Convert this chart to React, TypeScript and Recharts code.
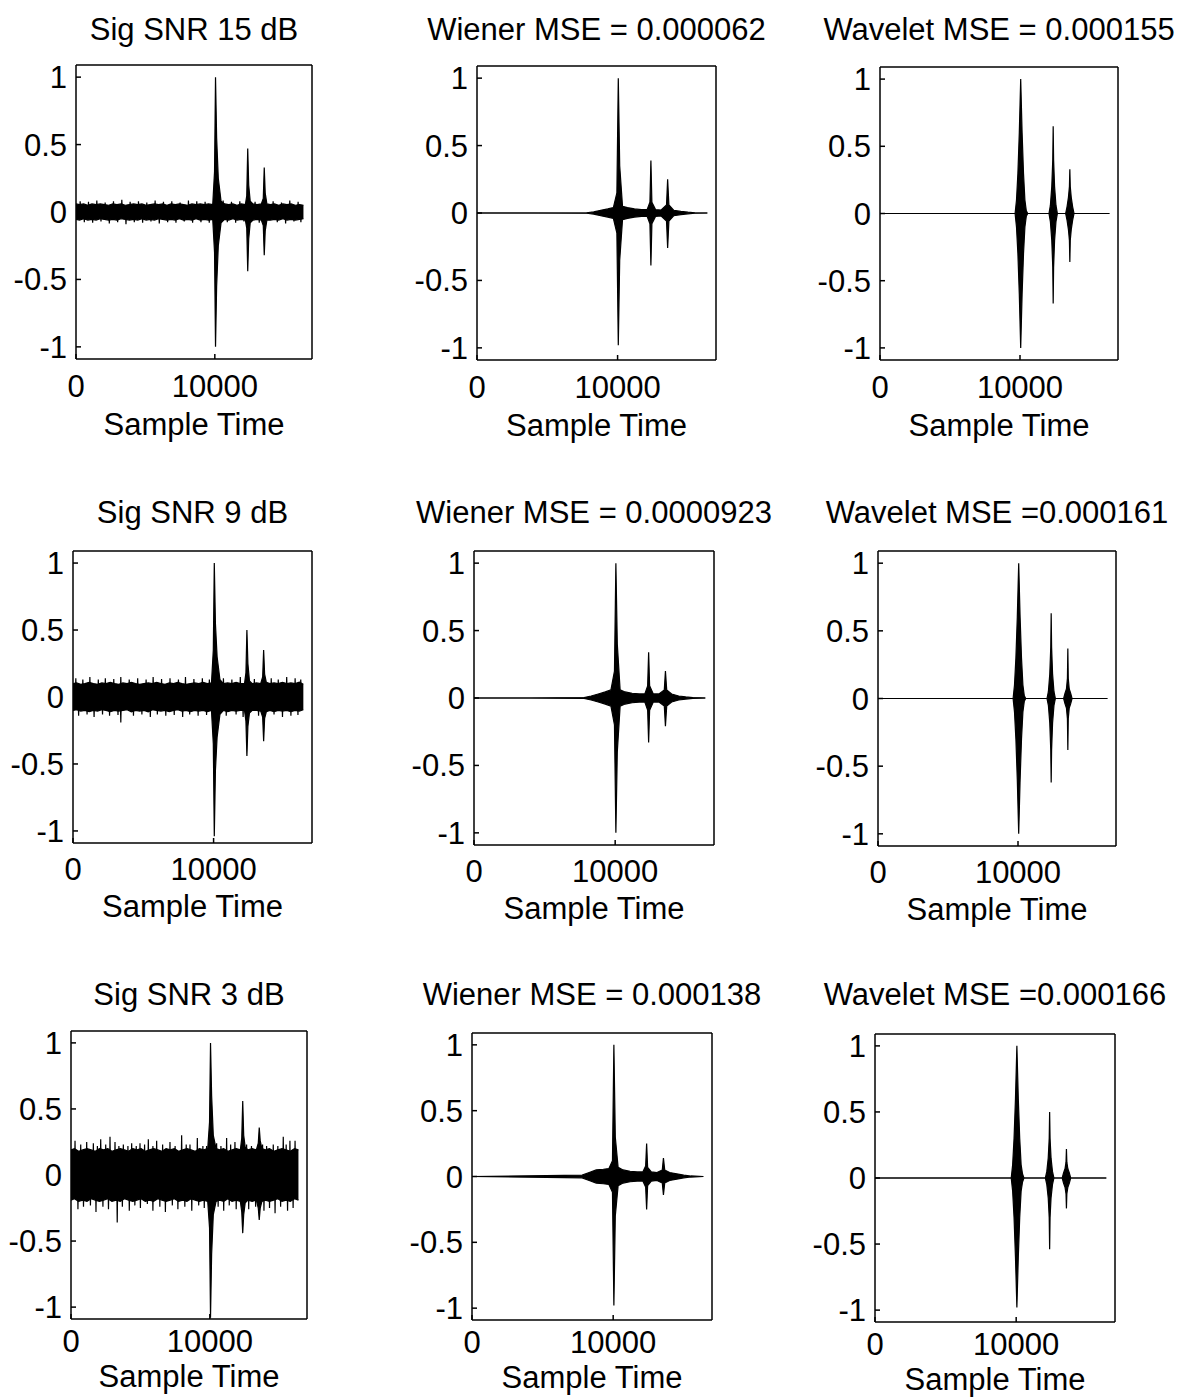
import { ComposedChart, Area, Line, XAxis, YAxis } from 'recharts';

// sample positions where the envelope of the noisy traces was read
const noisyTime = [
  0, 250, 550, 850, 1150, 1450, 1750, 2050, 2350, 2650,
  2950, 3250, 3550, 3850, 4150, 4450, 4750, 5050, 5350, 5650,
  5950, 6250, 6550, 6850, 7150, 7450, 7750, 8050, 8350, 8650,
  8950, 9250, 9550, 9850, 9980, 10050, 10130, 10250, 10450, 10700,
  11000, 11300, 11600, 11900, 12200, 12300, 12370, 12440, 12550, 12750,
  13050, 13350, 13490, 13560, 13630, 13750, 14000, 14300, 14600, 14900,
  15200, 15500, 15800, 16100, 16384,
];

// dense part of the noise band (+ the three pulses)
const snr15Upper = [
  0.06, 0.055, 0.06, 0.05, 0.06, 0.055, 0.06, 0.055, 0.05, 0.06,
  0.055, 0.06, 0.05, 0.055, 0.06, 0.055, 0.06, 0.05, 0.055, 0.06,
  0.055, 0.06, 0.05, 0.06, 0.055, 0.06, 0.055, 0.05, 0.06, 0.055,
  0.06, 0.055, 0.06, 0.055, 0.3, 1.0, 0.55, 0.25, 0.08, 0.06,
  0.055, 0.06, 0.05, 0.06, 0.055, 0.12, 0.47, 0.2, 0.08, 0.06,
  0.055, 0.06, 0.1, 0.33, 0.14, 0.06, 0.055, 0.06, 0.05, 0.06,
  0.055, 0.06, 0.05, 0.055, 0.05,
];
const snr15Lower = [
  -0.055, -0.06, -0.05, -0.06, -0.055, -0.06, -0.05, -0.055, -0.06, -0.055,
  -0.06, -0.05, -0.055, -0.06, -0.055, -0.06, -0.05, -0.06, -0.055, -0.06,
  -0.05, -0.055, -0.06, -0.055, -0.06, -0.05, -0.06, -0.055, -0.06, -0.05,
  -0.06, -0.055, -0.06, -0.055, -0.3, -1.0, -0.55, -0.25, -0.08, -0.055,
  -0.06, -0.05, -0.06, -0.055, -0.06, -0.12, -0.44, -0.2, -0.08, -0.06,
  -0.055, -0.06, -0.1, -0.32, -0.14, -0.06, -0.06, -0.055, -0.06, -0.05,
  -0.06, -0.055, -0.06, -0.055, -0.05,
];
const snr9Upper = [
  0.1, 0.105, 0.095, 0.1, 0.11, 0.1, 0.095, 0.105, 0.1, 0.11,
  0.1, 0.095, 0.105, 0.1, 0.11, 0.1, 0.095, 0.1, 0.105, 0.1,
  0.11, 0.1, 0.095, 0.105, 0.1, 0.11, 0.1, 0.095, 0.1, 0.105,
  0.1, 0.11, 0.1, 0.105, 0.35, 1.0, 0.55, 0.3, 0.13, 0.1,
  0.105, 0.1, 0.11, 0.1, 0.1, 0.18, 0.5, 0.25, 0.12, 0.1,
  0.105, 0.1, 0.15, 0.35, 0.17, 0.11, 0.1, 0.105, 0.1, 0.11,
  0.1, 0.105, 0.1, 0.11, 0.095,
];
const snr9Lower = [
  -0.1, -0.095, -0.105, -0.1, -0.11, -0.1, -0.105, -0.095, -0.1, -0.11,
  -0.1, -0.105, -0.1, -0.095, -0.11, -0.1, -0.105, -0.1, -0.11, -0.095,
  -0.1, -0.105, -0.1, -0.11, -0.1, -0.095, -0.105, -0.1, -0.11, -0.1,
  -0.105, -0.1, -0.11, -0.1, -0.35, -1.04, -0.55, -0.3, -0.13, -0.1,
  -0.11, -0.1, -0.105, -0.1, -0.1, -0.18, -0.44, -0.22, -0.12, -0.1,
  -0.1, -0.105, -0.15, -0.33, -0.16, -0.11, -0.1, -0.11, -0.1, -0.105,
  -0.1, -0.11, -0.1, -0.105, -0.095,
];
const snr3Upper = [
  0.19, 0.2, 0.18, 0.19, 0.2, 0.19, 0.18, 0.2, 0.19, 0.2,
  0.18, 0.19, 0.2, 0.19, 0.18, 0.2, 0.19, 0.2, 0.18, 0.19,
  0.2, 0.19, 0.18, 0.2, 0.19, 0.2, 0.18, 0.19, 0.2, 0.19,
  0.18, 0.2, 0.19, 0.2, 0.4, 1.0, 0.6, 0.3, 0.2, 0.19,
  0.2, 0.18, 0.19, 0.2, 0.19, 0.28, 0.56, 0.3, 0.21, 0.19,
  0.2, 0.19, 0.24, 0.36, 0.26, 0.2, 0.19, 0.2, 0.18, 0.19,
  0.2, 0.19, 0.18, 0.2, 0.19,
];
const snr3Lower = [
  -0.19, -0.18, -0.2, -0.19, -0.2, -0.18, -0.19, -0.2, -0.19, -0.18,
  -0.2, -0.19, -0.2, -0.18, -0.19, -0.2, -0.19, -0.18, -0.2, -0.19,
  -0.2, -0.18, -0.19, -0.2, -0.19, -0.18, -0.2, -0.19, -0.2, -0.18,
  -0.19, -0.2, -0.19, -0.2, -0.4, -1.08, -0.6, -0.3, -0.2, -0.19,
  -0.2, -0.18, -0.2, -0.19, -0.2, -0.28, -0.44, -0.3, -0.21, -0.19,
  -0.2, -0.19, -0.25, -0.34, -0.25, -0.2, -0.19, -0.2, -0.19, -0.18,
  -0.2, -0.19, -0.2, -0.18, -0.19,
];

// isolated noise peaks sticking out of the band: [sample, value]
const snr15TopTips = [
  [300, 0.08], [900, 0.075], [1500, 0.085], [2100, 0.07], [2700, 0.08], [3300, 0.09],
  [3900, 0.075], [4500, 0.08], [5100, 0.07], [5700, 0.085], [6300, 0.075], [6900, 0.08],
  [7500, 0.07], [8100, 0.085], [8700, 0.08], [9300, 0.075], [10600, 0.085], [11200, 0.075],
  [11800, 0.08], [12900, 0.075], [14200, 0.08], [14800, 0.07], [15400, 0.085], [16000, 0.075],
];
const snr15BottomTips = [
  [600, -0.075], [1200, -0.08], [1800, -0.07], [2400, -0.085], [3000, -0.075], [3600, -0.09],
  [4200, -0.075], [4800, -0.08], [5400, -0.07], [6000, -0.085], [6600, -0.075], [7200, -0.08],
  [7800, -0.07], [8400, -0.08], [9000, -0.075], [9600, -0.08], [10900, -0.075], [11500, -0.08],
  [12100, -0.07], [13200, -0.08], [14500, -0.075], [15100, -0.085], [15700, -0.07], [16200, -0.075],
];
const snr9TopTips = [
  [200, 0.14], [700, 0.13], [1200, 0.15], [1800, 0.13], [2300, 0.14], [2900, 0.135],
  [3400, 0.15], [4000, 0.13], [4600, 0.14], [5200, 0.13], [5700, 0.15], [6300, 0.135],
  [6900, 0.14], [7500, 0.13], [8000, 0.15], [8600, 0.135], [9200, 0.14], [9700, 0.13],
  [10700, 0.14], [11300, 0.13], [11900, 0.15], [12900, 0.135], [14100, 0.14], [14600, 0.13],
  [15200, 0.15], [15800, 0.14], [16200, 0.13],
];
const snr9BottomTips = [
  [400, -0.14], [1000, -0.13], [1500, -0.15], [2100, -0.13], [2600, -0.14], [3200, -0.135],
  [3400, -0.19], [4300, -0.14], [4900, -0.13], [5500, -0.15], [6000, -0.13], [6600, -0.14],
  [7200, -0.135], [7800, -0.15], [8300, -0.13], [8900, -0.14], [9500, -0.135], [10900, -0.14],
  [11600, -0.13], [12100, -0.15], [13200, -0.14], [14300, -0.13], [14900, -0.15], [15500, -0.14],
  [16000, -0.135],
];
const snr3TopTips = [
  [290, 0.26], [700, 0.23], [1130, 0.25], [1610, 0.24], [1900, 0.22], [2140, 0.27],
  [2500, 0.23], [2810, 0.29], [3170, 0.25], [3450, 0.22], [3770, 0.23], [4100, 0.22],
  [4370, 0.24], [4700, 0.22], [4970, 0.24], [5300, 0.23], [5570, 0.27], [5900, 0.22],
  [6170, 0.26], [6600, 0.23], [7130, 0.25], [7500, 0.22], [7970, 0.3], [8300, 0.23],
  [8570, 0.23], [9100, 0.28], [9500, 0.22], [9770, 0.22], [10490, 0.24], [10800, 0.22],
  [11210, 0.28], [11500, 0.23], [11810, 0.25], [12650, 0.23], [13000, 0.22], [13800, 0.23],
  [14090, 0.22], [14570, 0.23], [14900, 0.22], [15290, 0.29], [15500, 0.23], [15770, 0.26],
  [16140, 0.26],
];
const snr3BottomTips = [
  [500, -0.26], [900, -0.24], [1400, -0.23], [1800, -0.28], [2300, -0.24], [2700, -0.26],
  [3330, -0.36], [3700, -0.24], [4200, -0.27], [4600, -0.23], [5000, -0.25], [5500, -0.22],
  [5900, -0.27], [6400, -0.24], [6800, -0.28], [7300, -0.23], [7700, -0.26], [8200, -0.24],
  [8700, -0.27], [9200, -0.23], [9600, -0.25], [10600, -0.24], [11000, -0.27], [11400, -0.23],
  [11900, -0.26], [12800, -0.26], [13300, -0.24], [13900, -0.27], [14300, -0.25], [14700, -0.29],
  [15100, -0.24], [15600, -0.27], [16000, -0.25],
];

const wienerTime = [
  0, 4000, 7800, 8300, 8800, 9300, 9700, 9950, 10050, 10150,
  10350, 10700, 11200, 11700, 12100, 12300, 12370, 12440, 12700, 13100,
  13480, 13560, 13650, 14000, 14500, 15000, 15500, 16384,
];
const wiener15Upper = [
  0, 0, 0.002, 0.008, 0.02, 0.03, 0.04, 0.15, 1.0, 0.35,
  0.05, 0.04, 0.03, 0.025, 0.025, 0.08, 0.39, 0.08, 0.025, 0.022,
  0.06, 0.25, 0.06, 0.02, 0.012, 0.006, 0.002, 0,
];
const wiener15Lower = [
  0, 0, -0.002, -0.008, -0.02, -0.03, -0.04, -0.15, -0.98, -0.35,
  -0.05, -0.04, -0.03, -0.025, -0.025, -0.08, -0.39, -0.08, -0.025, -0.022,
  -0.06, -0.26, -0.06, -0.02, -0.012, -0.006, -0.002, 0,
];
const wiener9Upper = [
  0, 0, 0.003, 0.015, 0.03, 0.045, 0.06, 0.2, 1.0, 0.4,
  0.06, 0.045, 0.035, 0.03, 0.03, 0.09, 0.34, 0.09, 0.03, 0.03,
  0.06, 0.2, 0.06, 0.03, 0.015, 0.008, 0.003, 0,
];
const wiener9Lower = [
  0, 0, -0.003, -0.015, -0.03, -0.045, -0.06, -0.2, -1.0, -0.4,
  -0.06, -0.045, -0.035, -0.03, -0.03, -0.09, -0.33, -0.09, -0.03, -0.03,
  -0.06, -0.21, -0.06, -0.03, -0.015, -0.008, -0.003, 0,
];
const wiener3Upper = [
  0, 0.005, 0.01, 0.03, 0.05, 0.055, 0.06, 0.12, 1.0, 0.3,
  0.07, 0.05, 0.04, 0.035, 0.035, 0.08, 0.25, 0.07, 0.035, 0.03,
  0.05, 0.14, 0.05, 0.03, 0.02, 0.01, 0.004, 0,
];
const wiener3Lower = [
  0, -0.005, -0.01, -0.03, -0.05, -0.055, -0.06, -0.12, -0.98, -0.3,
  -0.07, -0.05, -0.04, -0.035, -0.035, -0.08, -0.25, -0.07, -0.035, -0.03,
  -0.05, -0.14, -0.05, -0.03, -0.02, -0.01, -0.004, 0,
];

const waveletTime = [
  0, 9650, 9750, 9850, 9950, 10050, 10150, 10250, 10350, 10450,
  10550, 12070, 12170, 12270, 12340, 12370, 12400, 12470, 12570, 12670,
  13260, 13360, 13460, 13530, 13560, 13590, 13660, 13760, 13860, 16384,
];
const wavelet15Upper = [
  0, 0, 0.1, 0.3, 0.6, 1.0, 0.6, 0.3, 0.1, 0.02,
  0, 0, 0.06, 0.2, 0.4, 0.65, 0.4, 0.2, 0.06, 0,
  0, 0.05, 0.12, 0.2, 0.33, 0.2, 0.12, 0.05, 0, 0,
];
const wavelet15Lower = [
  0, 0, -0.1, -0.3, -0.6, -1.0, -0.6, -0.3, -0.1, -0.02,
  0, 0, -0.06, -0.2, -0.4, -0.67, -0.4, -0.2, -0.06, 0,
  0, -0.05, -0.12, -0.2, -0.36, -0.2, -0.12, -0.05, 0, 0,
];
const wavelet9Upper = [
  0, 0, 0.1, 0.3, 0.6, 1.0, 0.6, 0.3, 0.1, 0.02,
  0, 0, 0.05, 0.18, 0.38, 0.63, 0.38, 0.18, 0.05, 0,
  0, 0.04, 0.07, 0.15, 0.37, 0.15, 0.07, 0.04, 0, 0,
];
const wavelet9Lower = [
  0, 0, -0.1, -0.3, -0.6, -1.0, -0.6, -0.3, -0.1, -0.02,
  0, 0, -0.05, -0.18, -0.38, -0.62, -0.38, -0.18, -0.05, 0,
  0, -0.04, -0.07, -0.15, -0.38, -0.15, -0.07, -0.04, 0, 0,
];
const wavelet3Upper = [
  0, 0, 0.1, 0.3, 0.6, 1.0, 0.6, 0.3, 0.1, 0.03,
  0, 0, 0.05, 0.15, 0.3, 0.5, 0.3, 0.15, 0.05, 0,
  0, 0.04, 0.07, 0.12, 0.22, 0.12, 0.07, 0.04, 0, 0,
];
const wavelet3Lower = [
  0, 0, -0.1, -0.3, -0.6, -0.98, -0.6, -0.3, -0.1, -0.03,
  0, 0, -0.05, -0.15, -0.3, -0.54, -0.3, -0.15, -0.05, 0,
  0, -0.04, -0.07, -0.12, -0.23, -0.12, -0.07, -0.04, 0, 0,
];

const titles = [
  'Sig SNR 15 dB', 'Wiener MSE = 0.000062', 'Wavelet MSE = 0.000155',
  'Sig SNR 9 dB', 'Wiener MSE = 0.0000923', 'Wavelet MSE =0.000161',
  'Sig SNR 3 dB', 'Wiener MSE = 0.000138', 'Wavelet MSE =0.000166',
];

const yTicks = [-1, -0.5, 0, 0.5, 1];
const xTicks = [0, 10000];
const X_MAX = 17000;
const Y_LIM = 1.09;

type Tip = number[];
const panels: { time: number[]; upper: number[]; lower: number[]; tips?: Tip[][] }[] = [
  { time: noisyTime, upper: snr15Upper, lower: snr15Lower, tips: [snr15TopTips, snr15BottomTips] },
  { time: wienerTime, upper: wiener15Upper, lower: wiener15Lower },
  { time: waveletTime, upper: wavelet15Upper, lower: wavelet15Lower },
  { time: noisyTime, upper: snr9Upper, lower: snr9Lower, tips: [snr9TopTips, snr9BottomTips] },
  { time: wienerTime, upper: wiener9Upper, lower: wiener9Lower },
  { time: waveletTime, upper: wavelet9Upper, lower: wavelet9Lower },
  { time: noisyTime, upper: snr3Upper, lower: snr3Lower, tips: [snr3TopTips, snr3BottomTips] },
  { time: wienerTime, upper: wiener3Upper, lower: wiener3Lower },
  { time: waveletTime, upper: wavelet3Upper, lower: wavelet3Lower },
];

// plot box of every subplot on the page (x, y, w, h) -- the scan is slightly uneven
const boxes = [
  [76, 65, 236, 294], [477, 66, 239, 294], [880, 67, 238, 293],
  [73, 551, 239, 292], [474, 551, 240, 294], [878, 551, 238, 295],
  [71, 1031, 236, 288], [472, 1033, 240, 287], [875, 1034, 240, 288],
];
// per row: title baseline, gap box->tick label top, gap box->xlabel baseline
const rowText = [
  { title: 40, tick: 16, xlabel: 76 },
  { title: 523, tick: 15, xlabel: 74 },
  { title: 1005, tick: 11, xlabel: 68 },
];

const FONT = 31;
const AXIS_W = 90;
const TOP = 10;
const BOTTOM = 85;

// peaks become thin needles rising from inside the band
const needles = (tips: Tip[]) =>
  tips.flatMap(([t, v]) => [{ t: t - 40, v: 0 }, { t, v }, { t: t + 40, v: 0 }]);

function Panel({ idx }: { idx: number }) {
  const p = panels[idx];
  const [bx, by, bw, bh] = boxes[idx];
  const rt = rowText[Math.floor(idx / 3)];
  const rows = p.time.map((t, i) => ({ t, band: [p.lower[i], p.upper[i]] }));
  const txt = { fill: '#000', fontSize: FONT };

  return (
    <>
      <div
        style={{
          position: 'absolute',
          left: bx + bw / 2 - 250,
          width: 500,
          top: rt.title - 26,
          textAlign: 'center',
          fontSize: FONT,
          lineHeight: `${FONT}px`,
          whiteSpace: 'nowrap',
          color: '#000',
        }}
      >
        {titles[idx]}
      </div>
      <div style={{ position: 'absolute', left: bx - AXIS_W, top: by - TOP }}>
        <ComposedChart
          width={bw + AXIS_W + 15}
          height={bh + TOP + BOTTOM}
          data={rows}
          margin={{ top: TOP - 1, right: 14, bottom: 0, left: 0 }}
          style={{ overflow: 'visible' }}
        >
          <XAxis
            dataKey="t"
            type="number"
            domain={[0, X_MAX]}
            ticks={xTicks}
            interval={0}
            allowDataOverflow
            height={BOTTOM}
            tickSize={-5}
            tickMargin={rt.tick + 5}
            stroke="#000"
            strokeWidth={1.5}
            tick={txt}
            label={{ value: 'Sample Time', position: 'insideBottom', offset: BOTTOM - rt.xlabel, ...txt }}
          />
          <XAxis
            xAxisId="top"
            orientation="top"
            dataKey="t"
            type="number"
            domain={[0, X_MAX]}
            ticks={xTicks}
            allowDataOverflow
            height={1}
            tickSize={-5}
            stroke="#000"
            strokeWidth={1.5}
            tick={false}
          />
          <YAxis
            type="number"
            domain={[-Y_LIM, Y_LIM]}
            ticks={yTicks}
            interval={0}
            allowDataOverflow
            width={AXIS_W}
            tickSize={-5}
            tickMargin={14}
            stroke="#000"
            strokeWidth={1.5}
            tick={txt}
            tickFormatter={(v: number) => String(v)}
          />
          <YAxis
            yAxisId="right"
            orientation="right"
            type="number"
            domain={[-Y_LIM, Y_LIM]}
            ticks={yTicks}
            allowDataOverflow
            width={1}
            tickSize={-5}
            stroke="#000"
            strokeWidth={1.5}
            tick={false}
          />
          <Area
            dataKey="band"
            type="linear"
            stroke="#000"
            strokeWidth={1.2}
            fill="#000"
            fillOpacity={1}
            dot={false}
            activeDot={false}
            isAnimationActive={false}
          />
          {p.tips &&
            p.tips.map((tips, k) => (
              <Line
                key={k}
                data={needles(tips)}
                dataKey="v"
                type="linear"
                stroke="#000"
                strokeWidth={1.2}
                dot={false}
                activeDot={false}
                isAnimationActive={false}
              />
            ))}
        </ComposedChart>
      </div>
    </>
  );
}

export default function App() {
  return (
    <div
      style={{
        position: 'absolute',
        left: 0,
        top: 0,
        width: 1187,
        height: 1400,
        background: '#fff',
        fontFamily: '"Liberation Sans", Arial, sans-serif',
      }}
    >
      {panels.map((_, i) => (
        <Panel key={i} idx={i} />
      ))}
    </div>
  );
}
